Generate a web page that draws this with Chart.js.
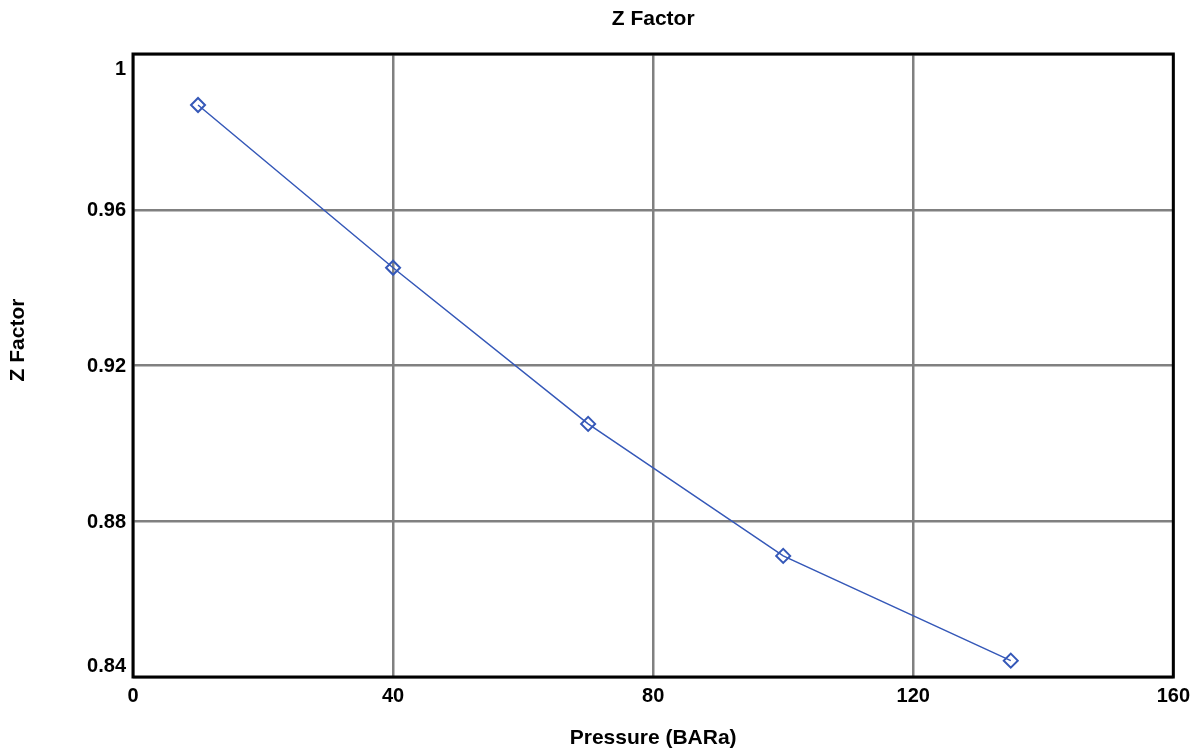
<!DOCTYPE html>
<html>
<head>
<meta charset="utf-8">
<script src="https://cdn.jsdelivr.net/npm/chart.js@4/dist/chart.umd.min.js"></script>
<style>
  html, body { margin: 0; padding: 0; background: #ffffff; }
  #wrap { width: 1197px; height: 751px; position: relative; }
</style>
</head>
<body>
<div id="wrap"><canvas id="c" width="1197" height="751"></canvas></div>
<script>
const chartTitle = 'Z Factor';
const xAxisTitle = 'Pressure (BARa)';
const yAxisTitle = 'Z Factor';
const pressure = [10, 40, 70, 100, 135];
const zFactor = [0.9869, 0.9451, 0.9050, 0.8711, 0.8442];
const xTickValues = [0, 40, 80, 120, 160];
const yTickValues = [0.84, 0.88, 0.92, 0.96, 1.0];
const yTickLabels = ['0.84', '0.88', '0.92', '0.96', '1'];

const FONT = '"Liberation Sans", Arial, sans-serif';

const overlay = {
  id: 'overlay',
  afterDraw(chart) {
    const ctx = chart.ctx;
    const a = chart.chartArea;
    const y = chart.scales.y;
    ctx.save();
    // plot frame
    ctx.strokeStyle = '#000000';
    ctx.lineWidth = 3;
    ctx.strokeRect(a.left, a.top, a.right - a.left, a.bottom - a.top);
    ctx.fillStyle = '#000000';
    // chart title, centred over the plot area
    ctx.font = 'bold 21px ' + FONT;
    ctx.textAlign = 'center';
    ctx.textBaseline = 'middle';
    ctx.fillText(chartTitle, (a.left + a.right) / 2, 19);
    // y tick labels
    ctx.font = 'bold 20px ' + FONT;
    ctx.textAlign = 'right';
    ctx.textBaseline = 'middle';
    yTickValues.forEach((v, i) => {
      let py = y.getPixelForValue(v) + 1;
      if (i === yTickValues.length - 1) py += 14;
      if (i === 0) py -= 12;
      ctx.fillText(yTickLabels[i], a.left - 7, py);
    });
    // y axis title
    ctx.font = 'bold 21px ' + FONT;
    ctx.textAlign = 'center';
    ctx.translate(18, 340);
    ctx.rotate(-Math.PI / 2);
    ctx.fillText(yAxisTitle, 0, 0);
    ctx.restore();
  }
};

new Chart(document.getElementById('c'), {
  type: 'line',
  data: {
    datasets: [{
      data: pressure.map((p, i) => ({ x: p, y: zFactor[i] })),
      borderColor: '#3558b8',
      borderWidth: 1.5,
      pointStyle: 'rectRot',
      pointRadius: 7,
      pointBorderWidth: 2,
      pointBorderColor: '#3558b8',
      pointBackgroundColor: 'rgba(0,0,0,0)',
      tension: 0
    }]
  },
  options: {
    responsive: false,
    animation: false,
    layout: { padding: { left: 0, right: 21, top: 54, bottom: 0 } },
    plugins: {
      legend: { display: false },
      tooltip: { enabled: false },
      title: { display: false }
    },
    scales: {
      x: {
        type: 'linear',
        min: 0, max: 160,
        afterBuildTicks(s) { s.ticks = xTickValues.map(v => ({ value: v })); },
        afterFit(s) { s.height = 74; },
        grid: { color: '#808080', lineWidth: 2.5, drawTicks: false },
        border: { display: false },
        ticks: {
          color: '#000000',
          font: { family: FONT, size: 20, weight: 'bold' },
          padding: 7,
          maxRotation: 0,
          callback: v => String(v)
        },
        title: {
          display: true,
          text: xAxisTitle,
          color: '#000000',
          font: { family: FONT, size: 21, weight: 'bold' },
          padding: { top: 0, bottom: 0 }
        }
      },
      y: {
        type: 'linear',
        min: 0.84, max: 1.0,
        afterBuildTicks(s) { s.ticks = yTickValues.map(v => ({ value: v })); },
        afterFit(s) { s.width = 133; },
        grid: { color: '#808080', lineWidth: 2.5, drawTicks: false },
        border: { display: false },
        ticks: { display: false }
      }
    }
  },
  plugins: [overlay]
});
</script>
</body>
</html>
